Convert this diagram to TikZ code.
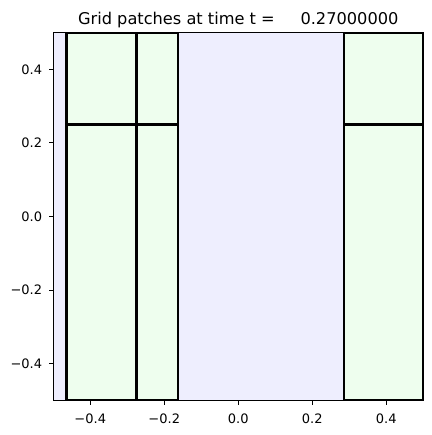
\documentclass[tikz,border=0pt]{standalone}
\usepackage{fontspec}
\setmainfont{DejaVu Sans}
\definecolor{coarse}{RGB}{238,238,254}
\definecolor{fine}{RGB}{238,254,238}
\tikzset{
ticklabel/.style={inner sep=0pt, font=\fontsize{13bp}{14bp}\selectfont},
}
\begin{document}
\begin{tikzpicture}[x=370bp,y=368bp]
\newcommand\finefill[4]{
\path[fill=fine] (#1,#2) rectangle (#3,#4);
}
\newcommand\fineedge[4]{
\path[draw,line width=2.3bp] (#1,#2) rectangle (#3,#4);
}
\newcommand\xtick[3]{
\path[draw,line width=1bp] (#2,-0.5) -- (#2,-0.5122);
\node[ticklabel] (#1) at (#2,-0.5497) {#3};
}
\newcommand\ytick[3]{
\path[draw,line width=1bp] (-0.5,#2) -- (-0.5121,#2);
\node[ticklabel, anchor=east] (#1) at (-0.5297,#2) {#3};
}
\useasboundingbox (-0.644,-0.5935) rectangle (0.5235,0.5886);

\begin{scope}
\clip (-0.5,-0.5) rectangle (0.5,0.5);
% level 1 patch
\path[fill=coarse] (-0.5,-0.5) rectangle (0.5,0.5);

% level 2 patches
\finefill{-0.464}{-0.5}{-0.275}{0.25}
\finefill{-0.464}{0.25}{-0.275}{0.5}
\finefill{-0.275}{-0.5}{-0.1635}{0.25}
\finefill{-0.275}{0.25}{-0.1635}{0.5}
\finefill{0.285}{-0.5}{0.5}{0.25}
\finefill{0.285}{0.25}{0.5}{0.5}
\fineedge{-0.464}{-0.5}{-0.275}{0.25}
\fineedge{-0.464}{0.25}{-0.275}{0.5}
\fineedge{-0.275}{-0.5}{-0.1635}{0.25}
\fineedge{-0.275}{0.25}{-0.1635}{0.5}
\fineedge{0.285}{-0.5}{0.5}{0.25}
\fineedge{0.285}{0.25}{0.5}{0.5}
\end{scope}

% axes
\path[draw,line width=1bp] (-0.5,-0.5) rectangle (0.5,0.5);
\xtick{xa}{-0.4}{−0.4}
\xtick{xb}{-0.2}{−0.2}
\xtick{xc}{0}{0.0}
\xtick{xd}{0.2}{0.2}
\xtick{xe}{0.4}{0.4}
\ytick{ya}{-0.4}{−0.4}
\ytick{yb}{-0.2}{−0.2}
\ytick{yc}{0}{0.0}
\ytick{yd}{0.2}{0.2}
\ytick{ye}{0.4}{0.4}

\node[inner sep=0pt, anchor=base, font=\fontsize{16.2bp}{18bp}\selectfont] (title) at (0,0.5209)
{Grid patches at time t =\ \ \ \ \ 0.27000000};
\end{tikzpicture}
\end{document}
